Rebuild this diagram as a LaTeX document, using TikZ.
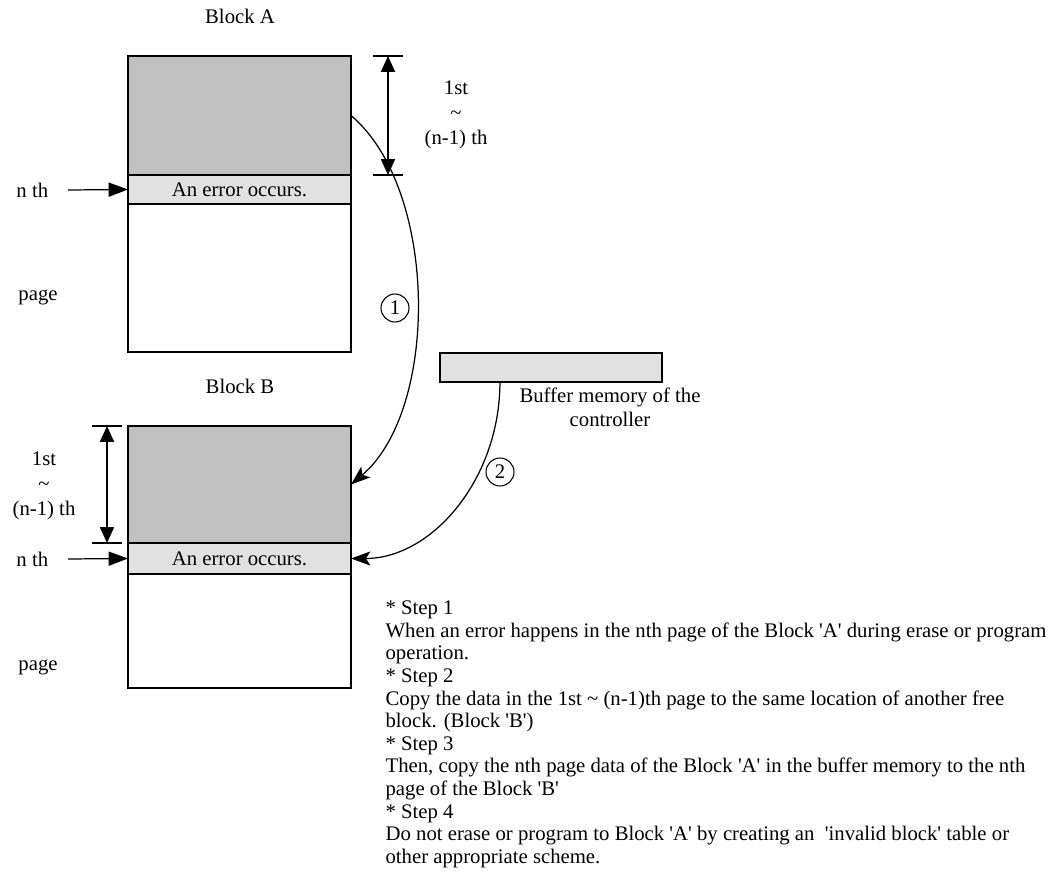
\documentclass[tikz,border=0pt]{standalone}
\usepackage{fontspec}
\setmainfont{Liberation Serif}
\usetikzlibrary{calc,arrows.meta}

\newcommand{\pxu}{0.02cm}
\newcommand{\sq}{\textquotesingle}
\definecolor{pagedark}{RGB}{192,192,192}
\definecolor{pagelight}{RGB}{225,225,225}

\tikzset{
  blockrow/.style={draw, line width=0.9pt, minimum width=223*\pxu, inner sep=0pt, outer sep=0pt},
  numcirc/.style={draw, circle, line width=0.6pt, minimum size=28*\pxu, inner sep=0pt},
  tip/.style={-{Triangle[length=11pt,width=8pt]}},
  bothtips/.style={{Triangle[length=9pt,width=8pt]}-{Triangle[length=9pt,width=8pt]}},
  curvetip/.style={-{Stealth[length=11pt,width=8pt,inset=2.5pt]}},
  rangelbl/.style={align=center, font=\fontsize{11.8}{14.2}\selectfont},
}

\begin{document}
\begin{tikzpicture}[x=\pxu, y=-\pxu, line width=0.7pt, font=\fontsize{11.8}{12.9}\selectfont]
  \useasboundingbox (0,0) rectangle (1055,878);

  % Block A
  \node (labA) at (240,16) {Block A};
  \node[blockrow, fill=pagedark, minimum height=119*\pxu, anchor=north west] (A1) at (128,56) {};
  \node[blockrow, fill=pagelight, minimum height=29*\pxu, anchor=north] (A2) at (A1.south) {An error occurs.};
  \node[blockrow, minimum height=148*\pxu, anchor=north] (A3) at (A2.south) {};
  \node[anchor=west] (nthA) at (10,190) {n th};
  \node[anchor=west] (pgA) at (12,297) {page};
  \coordinate (pA) at (68,190);
  \draw[tip] (pA) -- (A2.west);
  % 1st ~ (n-1) th of A
  \coordinate (dA1) at (388,56);
  \coordinate (dA2) at (388,175);
  \draw ($(dA1)+(-15,0)$) -- ($(dA1)+(15,0)$);
  \draw ($(dA2)+(-15,0)$) -- ($(dA2)+(15,0)$);
  \draw[bothtips] (dA1) -- (dA2);
  \node[rangelbl] (rngA) at (456,115) {1st\\\textasciitilde\\(n-1) th};

  % Block B
  \node (labB) at (240,386) {Block B};
  \node[blockrow, fill=pagedark, minimum height=117*\pxu, anchor=north west] (B1) at (128,426) {};
  \node[blockrow, fill=pagelight, minimum height=31*\pxu, anchor=north] (B2) at (B1.south) {An error occurs.};
  \node[blockrow, minimum height=114*\pxu, anchor=north] (B3) at (B2.south) {};
  \node[anchor=west] (nthB) at (10,559) {n th};
  \node[anchor=west] (pgB) at (12,667) {page};
  \coordinate (pB) at (68,559);
  \draw[tip] (pB) -- (B2.west);
  % 1st ~ (n-1) th of B
  \coordinate (dB1) at (107,426);
  \coordinate (dB2) at (107,543);
  \draw ($(dB1)+(-15,0)$) -- ($(dB1)+(15,0)$);
  \draw ($(dB2)+(-15,0)$) -- ($(dB2)+(15,0)$);
  \draw[bothtips] (dB1) -- (dB2);
  \node[rangelbl] (rngB) at (44,486) {1st\\\textasciitilde\\(n-1) th};

  % step 1: copy A -> B
  \draw[curvetip] (A1.east) .. controls (439,190) and (439,410) .. (B1.east);
  \node[numcirc] (s1) at (395,308) {1};

  % step 2: buffer -> B
  \node[blockrow, fill=pagelight, minimum width=222*\pxu, minimum height=29*\pxu, anchor=north west] (buf) at (440,353) {};
  \node[align=center, font=\fontsize{11.8}{13.6}\selectfont] (bufl) at (610,407) {Buffer memory of the\\controller};
  \coordinate (bufout) at ($(buf.south west)!0.27!(buf.south east)$);
  \draw[curvetip] (bufout) .. controls +(0,97) and +(81,0) .. (B2.east);
  \node[numcirc] (s2) at (500,472) {2};

  % steps
  \node[anchor=north west, align=left, inner sep=0pt] (steps) at (385,600) {%
    * Step 1\\
    When an error happens in the nth page of the Block \sq A\sq{} during erase or program\\
    operation.\\
    * Step 2\\
    Copy the data in the 1st \textasciitilde{} (n-1)th page to the same location of another free\\
    block. (Block \sq B\sq)\\
    * Step 3\\
    Then, copy the nth page data of the Block \sq A\sq{} in the buffer memory to the nth\\
    page of the Block \sq B\sq\\
    * Step 4\\
    Do not erase or program to Block \sq A\sq{} by creating an\ \ \sq invalid block\sq{} table or\\
    other appropriate scheme.};
\end{tikzpicture}
\end{document}
